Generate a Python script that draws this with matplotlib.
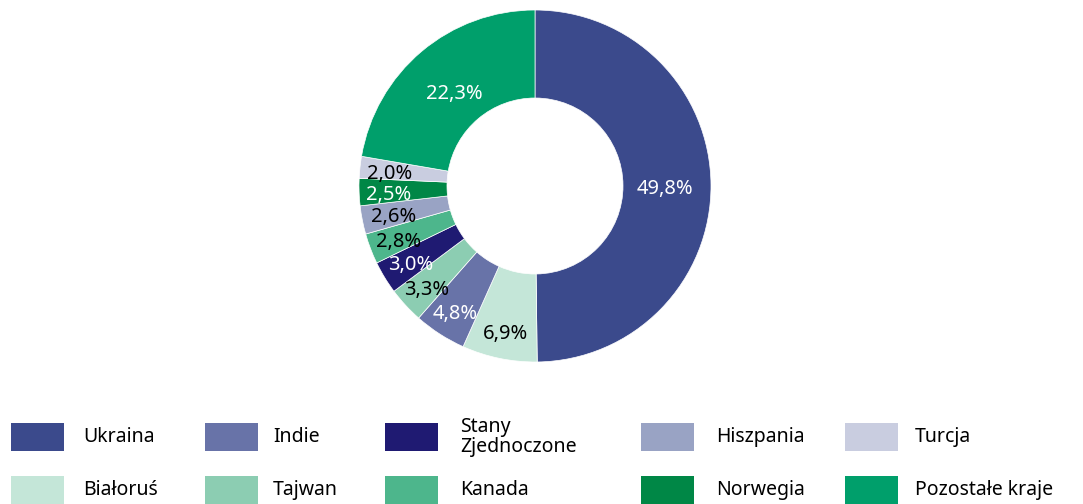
import matplotlib.pyplot as plt
import matplotlib.patches as mpatches
import numpy as np

plt.rcParams["font.family"] = ["Noto Sans", "DejaVu Sans"]

# slices, clockwise from 12 o'clock
countries = ["Ukraina", "Białoruś", "Indie", "Tajwan", "Stany\nZjednoczone",
             "Kanada", "Hiszpania", "Norwegia", "Turcja", "Pozostałe kraje"]
shares = [49.8, 6.9, 4.8, 3.3, 3.0, 2.8, 2.6, 2.5, 2.0, 22.3]
colors = ["#3b4a8c", "#c4e6d8", "#6873a8", "#8ccdb2", "#1f1a72",
          "#4db68c", "#99a3c4", "#008746", "#c9cde0", "#009f6b"]
label_colors = ["white", "black", "white", "black", "white",
                "black", "black", "white", "black", "white"]

# legend order (2 rows x 5 columns)
legend_order = [0, 2, 4, 6, 8, 1, 3, 5, 7, 9]

W, H = 1083, 504
fig = plt.figure(figsize=(W / 100, H / 100), dpi=100)

cx, cy, r = 535, 186, 176
ax = fig.add_axes([(cx - r) / W, (H - cy - r) / H, 2 * r / W, 2 * r / H])
wedges, _ = ax.pie(
    shares, colors=colors, startangle=90, counterclock=False, radius=1.0,
    wedgeprops=dict(width=0.5, edgecolor="white", linewidth=0.5),
)
ax.set_xlim(-1, 1)
ax.set_ylim(-1, 1)
ax.set_aspect("equal")
ax.axis("off")

# percentage labels inside the ring (radial position per slice)
label_r = [0.74, 0.84, 0.84, 0.84, 0.83, 0.83, 0.82, 0.83, 0.83, 0.71]
start = 90.0
for val, lc, rr in zip(shares, label_colors, label_r):
    mid = np.deg2rad(start - val * 3.6 / 2)
    start -= val * 3.6
    ax.text(rr * np.cos(mid), rr * np.sin(mid) - 0.02,
            f"{val:.1f}%".replace(".", ","),
            ha="center", va="center", fontsize=14.5, color=lc)

# legend drawn by hand
box_x = [11, 205, 385, 641, 845]
text_x = [83, 273, 460, 716, 915]
row_y = [437, 490]
for k, idx in enumerate(legend_order):
    row, col = divmod(k, 5)
    yc = row_y[row]
    fig.patches.append(mpatches.Rectangle(
        (box_x[col] / W, (H - yc - 14) / H), 53 / W, 28 / H,
        transform=fig.transFigure, facecolor=colors[idx], edgecolor="none"))
    fig.text(text_x[col] / W, (H - yc) / H, countries[idx], ha="left", va="center",
             fontsize=14, linespacing=1.05)

fig.savefig("out.png", dpi=100)
